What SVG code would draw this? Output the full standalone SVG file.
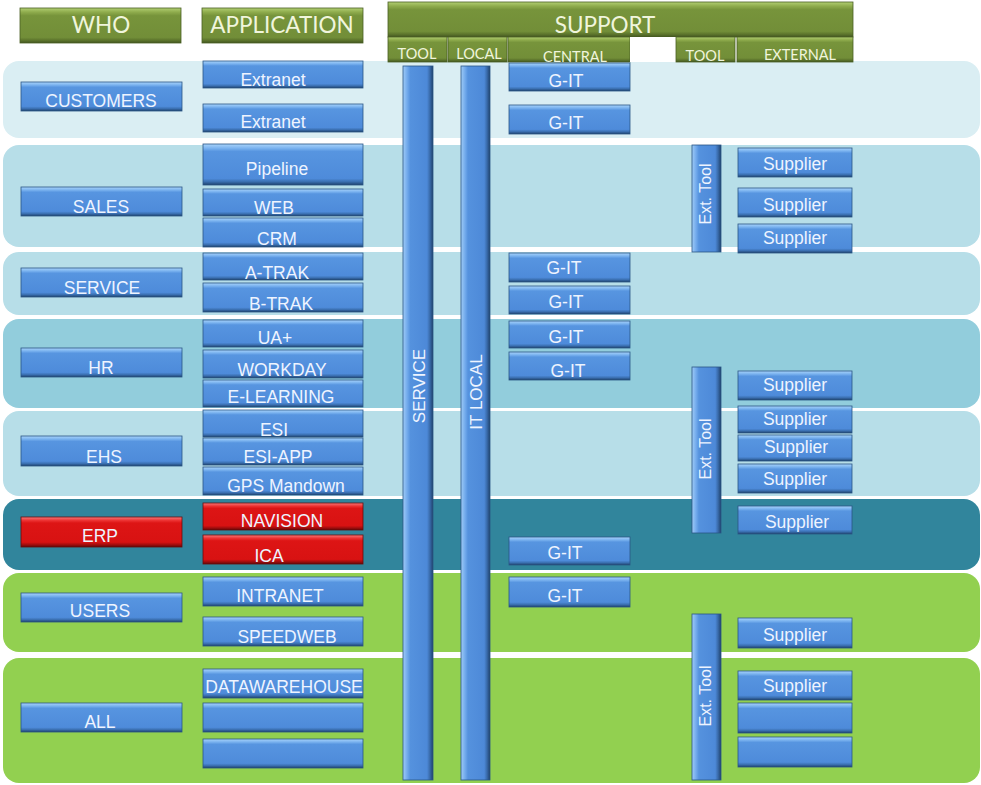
<svg xmlns="http://www.w3.org/2000/svg" width="981" height="785" viewBox="0 0 981 785">
  <defs>
    <!-- bevelled blue box -->
    <linearGradient id="gBlue" x1="0" y1="0" x2="0" y2="1">
      <stop offset="0" stop-color="#a9d3fa"/>
      <stop offset="0.1" stop-color="#7cb4f0"/>
      <stop offset="0.18" stop-color="#5795e0"/>
      <stop offset="0.84" stop-color="#4e8bda"/>
      <stop offset="0.92" stop-color="#3a6fb0"/>
      <stop offset="1" stop-color="#1f416c"/>
    </linearGradient>
    <!-- bevelled red box -->
    <linearGradient id="gRed" x1="0" y1="0" x2="0" y2="1">
      <stop offset="0" stop-color="#f77a7a"/>
      <stop offset="0.12" stop-color="#ec3030"/>
      <stop offset="0.2" stop-color="#dd1515"/>
      <stop offset="0.84" stop-color="#d81212"/>
      <stop offset="0.92" stop-color="#a30d0d"/>
      <stop offset="1" stop-color="#640808"/>
    </linearGradient>
    <!-- bevelled green header -->
    <linearGradient id="gGreen" x1="0" y1="0" x2="0" y2="1">
      <stop offset="0" stop-color="#b2cf72"/>
      <stop offset="0.12" stop-color="#8eab4c"/>
      <stop offset="0.22" stop-color="#77943b"/>
      <stop offset="0.84" stop-color="#728e38"/>
      <stop offset="0.93" stop-color="#5a722b"/>
      <stop offset="1" stop-color="#435620"/>
    </linearGradient>
    <!-- vertical bars, lit from the left -->
    <linearGradient id="gBar" x1="0" y1="0" x2="1" y2="0">
      <stop offset="0" stop-color="#9fcbf6"/>
      <stop offset="0.14" stop-color="#73abec"/>
      <stop offset="0.24" stop-color="#5592de"/>
      <stop offset="0.8" stop-color="#4d89d8"/>
      <stop offset="0.9" stop-color="#3869a8"/>
      <stop offset="1" stop-color="#1f416c"/>
    </linearGradient>
    <style>
      .band { stroke: none; }
      .box { fill: url(#gBlue); stroke: #2a5586; stroke-width: 0.8; }
      .red { fill: url(#gRed); stroke: #6a0a0a; stroke-width: 0.8; }
      .hdr { fill: url(#gGreen); stroke: #4a5f24; stroke-width: 0.8; }
      .bar { fill: url(#gBar); stroke: #2a5586; stroke-width: 0.8; }
      .t { font-family: "Liberation Sans", Arial, sans-serif; font-size: 17.5px; fill: #eef4ff; text-anchor: middle; }
      .vt { font-family: "Liberation Sans", Arial, sans-serif; font-size: 17px; fill: #eef4ff; text-anchor: middle; }
      .et { font-family: "Liberation Sans", Arial, sans-serif; font-size: 16px; fill: #eef4ff; text-anchor: middle; }
      .h { font-family: Lato, "Open Sans", sans-serif; font-size: 22.5px; fill: #f0f5dc; text-anchor: middle; }
      .hs { font-family: Lato, "Open Sans", sans-serif; font-size: 14.5px; fill: #f0f5dc; text-anchor: middle; }
    </style>
  </defs>

  <rect width="981" height="785" fill="#ffffff"/>

  <!-- row bands -->
  <g id="bands">
    <rect class="band" x="3" y="61" width="977" height="77" rx="16" fill="#daeef3"/>
    <rect class="band" x="3" y="145" width="977" height="102" rx="16" fill="#b7dee8"/>
    <rect class="band" x="3" y="252" width="977" height="63" rx="16" fill="#b7dee8"/>
    <rect class="band" x="3" y="319" width="977" height="89" rx="16" fill="#92cddc"/>
    <rect class="band" x="3" y="411" width="977" height="85" rx="16" fill="#b7dee8"/>
    <rect class="band" x="3" y="499" width="977" height="71" rx="16" fill="#31859c"/>
    <rect class="band" x="3" y="573" width="977" height="79" rx="16" fill="#92d050"/>
    <rect class="band" x="3" y="658" width="977" height="125" rx="16" fill="#92d050"/>
  </g>

  <!-- column headers -->
  <g id="hdr-who"><rect class="hdr" x="20" y="8" width="161" height="35"/><text class="h" x="101" y="33">WHO</text></g>
  <g id="hdr-application"><rect class="hdr" x="202" y="8" width="161" height="35"/><text class="h" x="282" y="33">APPLICATION</text></g>
  <g id="hdr-support"><rect class="hdr" x="388" y="2" width="465" height="35"/><text class="h" x="605" y="33">SUPPORT</text></g>
  <g id="hdr-tool"><rect class="hdr" x="388" y="37" width="59" height="25"/><text class="hs" x="417" y="59">TOOL</text></g>
  <g id="hdr-local"><rect class="hdr" x="448" y="37" width="59" height="25"/><text class="hs" x="479" y="59">LOCAL</text></g>
  <g id="hdr-central"><rect class="hdr" x="508" y="37" width="122" height="25"/><text class="hs" x="575" y="62">CENTRAL</text></g>
  <rect x="630" y="37" width="46" height="25" fill="#ffffff"/>
  <g id="hdr-tool2"><rect class="hdr" x="676" y="37" width="59" height="25"/><text class="hs" x="705" y="61">TOOL</text></g>
  <g id="hdr-external"><rect class="hdr" x="737" y="37" width="116" height="25"/><text class="hs" x="800" y="60">EXTERNAL</text></g>

  <!-- WHO column -->
  <g id="who-customers"><rect class="box" x="21" y="82" width="161" height="29"/><text class="t" x="101" y="107">CUSTOMERS</text></g>
  <g id="who-sales"><rect class="box" x="21" y="187" width="161" height="29"/><text class="t" x="101" y="213">SALES</text></g>
  <g id="who-service"><rect class="box" x="21" y="268" width="161" height="29"/><text class="t" x="102" y="294">SERVICE</text></g>
  <g id="who-hr"><rect class="box" x="21" y="348" width="161" height="29"/><text class="t" x="101" y="374">HR</text></g>
  <g id="who-ehs"><rect class="box" x="21" y="436" width="161" height="30"/><text class="t" x="104" y="463">EHS</text></g>
  <g id="who-erp"><rect class="red" x="21" y="517" width="161" height="30"/><text class="t" x="100" y="542">ERP</text></g>
  <g id="who-users"><rect class="box" x="21" y="593" width="161" height="29"/><text class="t" x="100" y="617">USERS</text></g>
  <g id="who-all"><rect class="box" x="21" y="703" width="161" height="29"/><text class="t" x="100" y="728">ALL</text></g>

  <!-- APPLICATION column -->
  <g id="app-extranet-1"><rect class="box" x="203" y="61" width="160" height="27"/><text class="t" x="273" y="86">Extranet</text></g>
  <g id="app-extranet-2"><rect class="box" x="203" y="104" width="160" height="28"/><text class="t" x="273" y="128">Extranet</text></g>
  <g id="app-pipeline"><rect class="box" x="203" y="144" width="160" height="41"/><text class="t" x="277" y="175">Pipeline</text></g>
  <g id="app-web"><rect class="box" x="203" y="189" width="160" height="27"/><text class="t" x="274" y="214">WEB</text></g>
  <g id="app-crm"><rect class="box" x="203" y="218" width="160" height="29"/><text class="t" x="277" y="245">CRM</text></g>
  <g id="app-atrak"><rect class="box" x="203" y="253" width="160" height="27"/><text class="t" x="277" y="279">A-TRAK</text></g>
  <g id="app-btrak"><rect class="box" x="203" y="283" width="160" height="29"/><text class="t" x="281" y="310">B-TRAK</text></g>
  <g id="app-uaplus"><rect class="box" x="203" y="320" width="160" height="27"/><text class="t" x="275" y="344">UA+</text></g>
  <g id="app-workday"><rect class="box" x="203" y="350" width="160" height="28"/><text class="t" x="282" y="376">WORKDAY</text></g>
  <g id="app-elearning"><rect class="box" x="203" y="380" width="160" height="27"/><text class="t" x="281" y="403">E-LEARNING</text></g>
  <g id="app-esi"><rect class="box" x="203" y="410" width="160" height="27"/><text class="t" x="274" y="436">ESI</text></g>
  <g id="app-esi-app"><rect class="box" x="203" y="438" width="160" height="27"/><text class="t" x="278" y="463">ESI-APP</text></g>
  <g id="app-gps"><rect class="box" x="203" y="467" width="160" height="28"/><text class="t" x="286" y="492">GPS Mandown</text></g>
  <g id="app-navision"><rect class="red" x="203" y="503" width="160" height="27"/><text class="t" x="282" y="527">NAVISION</text></g>
  <g id="app-ica"><rect class="red" x="203" y="535" width="160" height="29"/><text class="t" x="269" y="562">ICA</text></g>
  <g id="app-intranet"><rect class="box" x="203" y="577" width="160" height="29"/><text class="t" x="280" y="602">INTRANET</text></g>
  <g id="app-speedweb"><rect class="box" x="203" y="617" width="160" height="29"/><text class="t" x="287" y="643">SPEEDWEB</text></g>
  <g id="app-datawarehouse"><rect class="box" x="203" y="669" width="160" height="29"/><text class="t" x="284" y="693">DATAWAREHOUSE</text></g>
  <g id="app-blank-1"><rect class="box" x="203" y="703" width="160" height="29"/></g>
  <g id="app-blank-2"><rect class="box" x="203" y="739" width="160" height="29"/></g>

  <!-- support: tool and local bars -->
  <g id="sup-service"><rect class="bar" x="403" y="66" width="30" height="714"/><text class="vt" transform="translate(425,386) rotate(-90)">SERVICE</text></g>
  <g id="sup-it-local"><rect class="bar" x="461" y="66" width="29" height="714"/><text class="vt" transform="translate(482,392) rotate(-90)">IT LOCAL</text></g>

  <!-- support: central -->
  <g id="git-1"><rect class="box" x="509" y="63" width="121" height="28"/><text class="t" x="566" y="87">G-IT</text></g>
  <g id="git-2"><rect class="box" x="509" y="105" width="121" height="29"/><text class="t" x="566" y="129">G-IT</text></g>
  <g id="git-3"><rect class="box" x="509" y="253" width="121" height="29"/><text class="t" x="564" y="274">G-IT</text></g>
  <g id="git-4"><rect class="box" x="509" y="286" width="121" height="28"/><text class="t" x="566" y="308">G-IT</text></g>
  <g id="git-5"><rect class="box" x="509" y="321" width="121" height="27"/><text class="t" x="566" y="343">G-IT</text></g>
  <g id="git-6"><rect class="box" x="509" y="352" width="121" height="28"/><text class="t" x="568" y="377">G-IT</text></g>
  <g id="git-7"><rect class="box" x="509" y="537" width="121" height="28"/><text class="t" x="565" y="559">G-IT</text></g>
  <g id="git-8"><rect class="box" x="509" y="577" width="121" height="30"/><text class="t" x="565" y="602">G-IT</text></g>

  <!-- support: external tools -->
  <g id="ext-tool-1"><rect class="bar" x="692" y="145" width="29" height="107"/><text class="et" transform="translate(711,194) rotate(-90)">Ext. Tool</text></g>
  <g id="ext-tool-2"><rect class="bar" x="692" y="367" width="29" height="166"/><text class="et" transform="translate(711,449) rotate(-90)">Ext. Tool</text></g>
  <g id="ext-tool-3"><rect class="bar" x="692" y="614" width="29" height="166"/><text class="et" transform="translate(711,696) rotate(-90)">Ext. Tool</text></g>

  <!-- support: external suppliers -->
  <g id="supplier-1"><rect class="box" x="738" y="148" width="114" height="29"/><text class="t" x="795" y="170">Supplier</text></g>
  <g id="supplier-2"><rect class="box" x="738" y="188" width="114" height="29"/><text class="t" x="795" y="211">Supplier</text></g>
  <g id="supplier-3"><rect class="box" x="738" y="224" width="114" height="29"/><text class="t" x="795" y="244">Supplier</text></g>
  <g id="supplier-4"><rect class="box" x="738" y="371" width="114" height="29"/><text class="t" x="795" y="391">Supplier</text></g>
  <g id="supplier-5"><rect class="box" x="738" y="406" width="114" height="27"/><text class="t" x="795" y="425">Supplier</text></g>
  <g id="supplier-6"><rect class="box" x="738" y="435" width="114" height="26"/><text class="t" x="796" y="453">Supplier</text></g>
  <g id="supplier-7"><rect class="box" x="738" y="464" width="114" height="29"/><text class="t" x="795" y="485">Supplier</text></g>
  <g id="supplier-8"><rect class="box" x="738" y="506" width="114" height="28"/><text class="t" x="797" y="528">Supplier</text></g>
  <g id="supplier-9"><rect class="box" x="738" y="618" width="114" height="30"/><text class="t" x="795" y="641">Supplier</text></g>
  <g id="supplier-10"><rect class="box" x="738" y="671" width="114" height="29"/><text class="t" x="795" y="692">Supplier</text></g>
  <g id="supplier-blank-1"><rect class="box" x="738" y="703" width="114" height="30"/></g>
  <g id="supplier-blank-2"><rect class="box" x="738" y="737" width="114" height="30"/></g>
</svg>
